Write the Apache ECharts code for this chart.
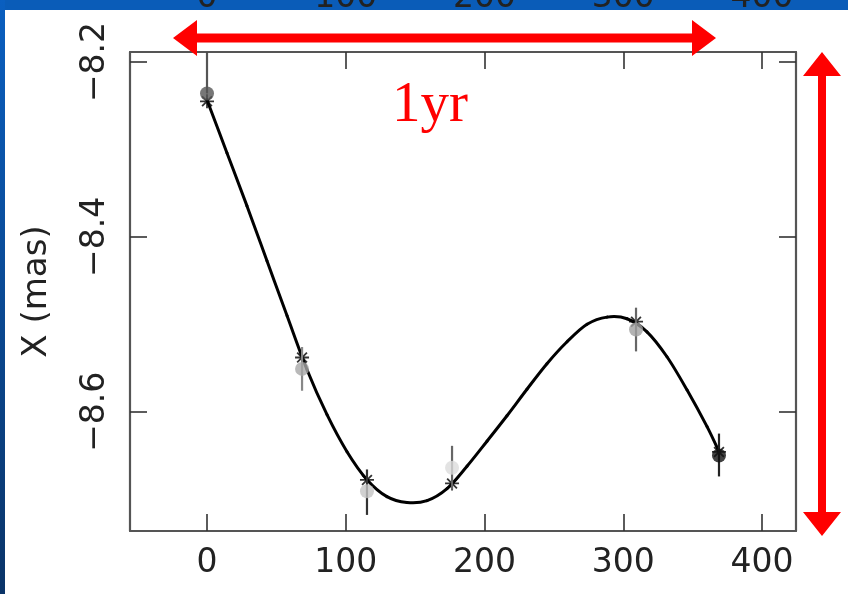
<!DOCTYPE html>
<html><head><meta charset="utf-8">
<script src="https://cdn.jsdelivr.net/npm/echarts@6/dist/echarts.min.js"></script>
<style>html,body{margin:0;padding:0;background:#fff;} #c{width:848px;height:594px;}</style>
</head><body><div id="c"></div>
<script>
// Observation epochs (days) and measured X offsets (mas)
const epochs      = [0, 68.5, 115.3, 176.6, 309.2, 369.0];
const measured    = [-8.236, -8.551, -8.691, -8.664, -8.506, -8.650];
const errLow      = [-8.236, -8.576, -8.718, -8.689, -8.531, -8.674];
const errHigh     = [-8.189, -8.526, -8.666, -8.639, -8.481, -8.625];
// Model values at the epochs (asterisks)
const modelAtEpochs = [-8.245, -8.538, -8.678, -8.682, -8.497, -8.646];
// Fitted curve
const curveDays   = [0, 14.4, 28.8, 43.2, 57.7, 72.1, 86.5, 100.9, 115.3, 129.7, 144.1, 158.6, 173.0, 187.4, 201.8, 216.2, 230.6, 245.0, 259.5, 273.9, 288.3, 302.7, 317.1, 331.5, 345.9, 360.4, 369.0];
const curveOffset = [-8.2434, -8.304, -8.3646, -8.4274, -8.4903, -8.552, -8.6034, -8.6457, -8.6777, -8.6971, -8.7038, -8.7017, -8.688, -8.6623, -8.6337, -8.6046, -8.5743, -8.5451, -8.52, -8.5, -8.4918, -8.4937, -8.5086, -8.5371, -8.5749, -8.6171, -8.6457];
const xTicks = [0, 100, 200, 300, 400];
const yTicks = [-8.2, -8.4, -8.6];
const yTitle = 'X (mas)';
const annotation = '1yr';

const pointShades = ['#555555', '#a8a8a8', '#c4c4c4', '#dcdcdc', '#a0a0a0', '#111111'];
const barShades   = ['#555555', '#888888', '#333333', '#666666', '#666666', '#222222'];

const FONT = 'DejaVu Sans';
const frame = {show: true, onZero: false, lineStyle: {color: '#555', width: 2.2}};
const tick = (vals) => ({show: true, inside: true, length: 17, customValues: vals, lineStyle: {color: '#333', width: 1.6}});

// Smooth curve through the read points (Catmull-Rom in pixel space)
function curveRender(params, api) {
  if (params.dataIndex !== 0) return null;
  const pts = curveDays.map((d, i) => api.coord([d, curveOffset[i]]));
  const n = pts.length;
  const segs = [];
  for (let i = 0; i < n - 1; i++) {
    const p0 = pts[Math.max(i - 1, 0)], p1 = pts[i], p2 = pts[i + 1], p3 = pts[Math.min(i + 2, n - 1)];
    const c1 = [p1[0] + (p2[0] - p0[0]) / 6, p1[1] + (p2[1] - p0[1]) / 6];
    const c2 = [p2[0] - (p3[0] - p1[0]) / 6, p2[1] - (p3[1] - p1[1]) / 6];
    segs.push({type: 'bezierCurve', shape: {x1: p1[0], y1: p1[1], x2: p2[0], y2: p2[1], cpx1: c1[0], cpy1: c1[1], cpx2: c2[0], cpy2: c2[1]},
               style: {stroke: '#000', lineWidth: 3, fill: null, lineCap: 'round'}});
  }
  return {type: 'group', children: segs};
}

const chart = echarts.init(document.getElementById('c'), null, {renderer: 'canvas'});
chart.setOption({
  backgroundColor: '#ffffff',
  animation: false,
  grid: {left: 130, right: 52, top: 52, bottom: 63, containLabel: false, outerBoundsMode: 'none'},
  xAxis: [
    {type: 'value', min: -55.5, max: 424.5, position: 'bottom',
     axisLine: frame, axisTick: tick(xTicks), splitLine: {show: false},
     axisLabel: {customValues: xTicks, margin: 16, fontFamily: FONT, fontSize: 33, color: '#222'}},
    {type: 'value', min: -55.5, max: 424.5, position: 'top',
     axisLine: frame, axisTick: tick(xTicks), splitLine: {show: false},
     axisLabel: {customValues: xTicks, margin: 37, fontFamily: FONT, fontSize: 33, color: '#222'}}
  ],
  yAxis: [
    {type: 'value', min: -8.7364, max: -8.1886, position: 'left',
     name: yTitle, nameLocation: 'middle', nameGap: 76, nameRotate: 90,
     nameTextStyle: {fontFamily: FONT, fontSize: 34, color: '#222'},
     axisLine: frame, axisTick: tick(yTicks), splitLine: {show: false},
     axisLabel: {customValues: yTicks, rotate: 90, margin: 18, fontFamily: FONT, fontSize: 33, color: '#222',
       formatter: v => (v < 0 ? '\u2212' : '') + Math.abs(v).toFixed(1)}},
    {type: 'value', min: -8.7364, max: -8.1886, position: 'right',
     axisLine: frame, axisTick: tick(yTicks), splitLine: {show: false}, axisLabel: {show: false}}
  ],
  series: [
    {type: 'custom', data: [[curveDays[0], curveOffset[0]]], renderItem: curveRender, clip: true, z: 3, silent: true},
    {type: 'scatter', data: epochs.map((d, i) => [d, modelAtEpochs[i]]),
     symbol: 'path://M0,-10L0,10M-10,0L10,0M-7,-7L7,7M-7,7L7,-7', symbolSize: 14,
     itemStyle: {color: 'none', borderColor: '#000', borderWidth: 1.8}, z: 4},
    {type: 'custom', data: epochs.map((d, i) => [d, errLow[i], errHigh[i]]), clip: true, z: 5,
     renderItem: (params, api) => {
       const a = api.coord([api.value(0), api.value(1)]);
       const b = api.coord([api.value(0), api.value(2)]);
       return {type: 'line', shape: {x1: a[0], y1: a[1], x2: b[0], y2: b[1]},
               style: {stroke: barShades[params.dataIndex], lineWidth: 2.2}};
     }},
    {type: 'scatter', data: epochs.map((d, i) => ({value: [d, measured[i]], itemStyle: {color: pointShades[i]}})),
     symbol: 'circle', symbolSize: 14, z: 6}
  ],
  graphic: [
    {type: 'rect', shape: {x: 0, y: 0, width: 848, height: 10}, z: -5,
     style: {fill: '#0a5cb8'}},
    {type: 'rect', shape: {x: 0, y: 0, width: 5, height: 594}, z: -5,
     style: {fill: new echarts.graphic.LinearGradient(0, 0, 0, 1, [{offset: 0, color: '#0a5fc0'}, {offset: 1, color: '#0a3468'}])}},
    {type: 'polygon', z: 100,
     shape: {points: [[173,38],[197,20],[197,33.5],[692,33.5],[692,20],[716,38],[692,56],[692,42.5],[197,42.5],[197,56]]},
     style: {fill: '#ff0000'}},
    {type: 'polygon', z: 100,
     shape: {points: [[822,52],[841,76],[826,76],[826,512],[841,512],[822,536],[803,512],[818,512],[818,76],[803,76]]},
     style: {fill: '#ff0000'}},
    {type: 'text', z: 100, x: 430, y: 106,
     style: {text: annotation, fill: '#ff0000', font: '57px "Liberation Serif"', textAlign: 'center', textVerticalAlign: 'middle'}}
  ]
});
</script></body></html>
